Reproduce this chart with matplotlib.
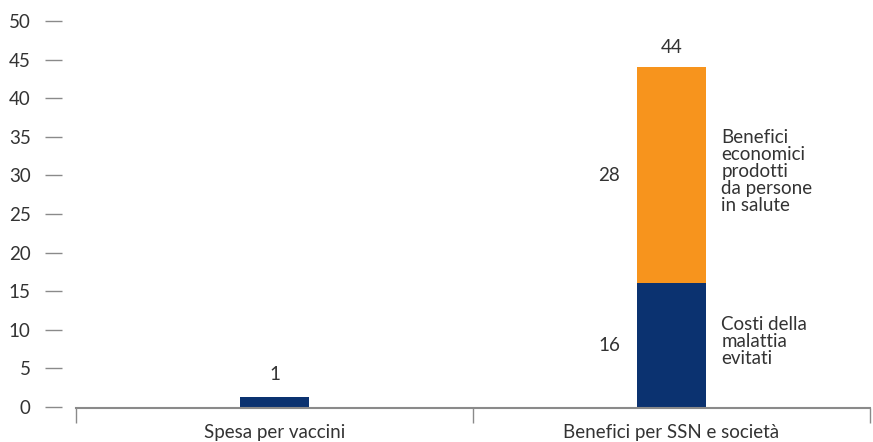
import numpy as np
import matplotlib
matplotlib.use("Agg")
import matplotlib.pyplot as plt

plt.rcParams['font.family'] = ['Lato', 'DejaVu Sans']

categories = ['Spesa per vaccini', 'Benefici per SSN e società']
spesa = [1.3, 0]
costi = [0, 16]
benefici = [0, 28]
yticks = [0, 5, 10, 15, 20, 25, 30, 35, 40, 45, 50]
seg_labels = ['Costi della\nmalattia\nevitati',
              'Benefici\neconomici\nprodotti\nda persone\nin salute']

navy = '#0b3270'
orange = '#f7941d'
txt = '#333333'
grey = '#8a8a8a'
fs = 13.5

fig = plt.figure(figsize=(8.73, 4.42), dpi=100)
ax = fig.add_axes([0.087, 0.0758, 0.9095, 0.920])

x = np.arange(len(categories))
w = 0.174
ax.bar(x[0], spesa[0], width=w, color=navy)
ax.bar(x[1], costi[1], width=w, color=navy)
ax.bar(x[1], benefici[1], width=w, bottom=costi[1], color=orange)

ax.set_xlim(-0.5, 1.5)
ax.set_ylim(-0.2, 52.5)

# value labels
ax.annotate('%.0f' % spesa[0], (x[0], spesa[0]), xytext=(0, 10), textcoords='offset points',
            ha='center', va='bottom', fontsize=fs, color=txt)
total = costi[1] + benefici[1]
ax.annotate('%.0f' % total, (x[1], total), xytext=(0, 8), textcoords='offset points',
            ha='center', va='bottom', fontsize=fs, color=txt)
mids = [costi[1] / 2, costi[1] + benefici[1] / 2]
vals = [costi[1], benefici[1]]
for m, v, lab in zip(mids, vals, seg_labels):
    ax.annotate('%.0f' % v, (x[1] - w / 2, m), xytext=(-12, 0), textcoords='offset points',
                ha='right', va='center', fontsize=fs, color=txt)
    ax.annotate(lab, (x[1] + w / 2, m), xytext=(11, 3), textcoords='offset points',
                ha='left', va='center', fontsize=fs, color=txt, linespacing=1.0)

# spines
for s in ['top', 'right', 'left']:
    ax.spines[s].set_visible(False)
ax.spines['bottom'].set_color(grey)
ax.spines['bottom'].set_linewidth(1.5)
ax.spines['left'].set_position(('outward', 10))

ax.set_yticks(yticks)
ax.tick_params(axis='y', direction='out', length=12.5, width=1, color=grey,
               labelsize=fs, labelcolor=txt, pad=10)

ax.set_xticks(x)
ax.set_xticklabels(categories)
ax.set_xticks([-0.5, 0.5, 1.5], minor=True)
ax.tick_params(axis='x', which='major', length=0, labelsize=fs, labelcolor=txt, pad=11)
ax.tick_params(axis='x', which='minor', direction='out', length=10.5, width=1, color=grey)

fig.savefig('out.png', dpi=100)
